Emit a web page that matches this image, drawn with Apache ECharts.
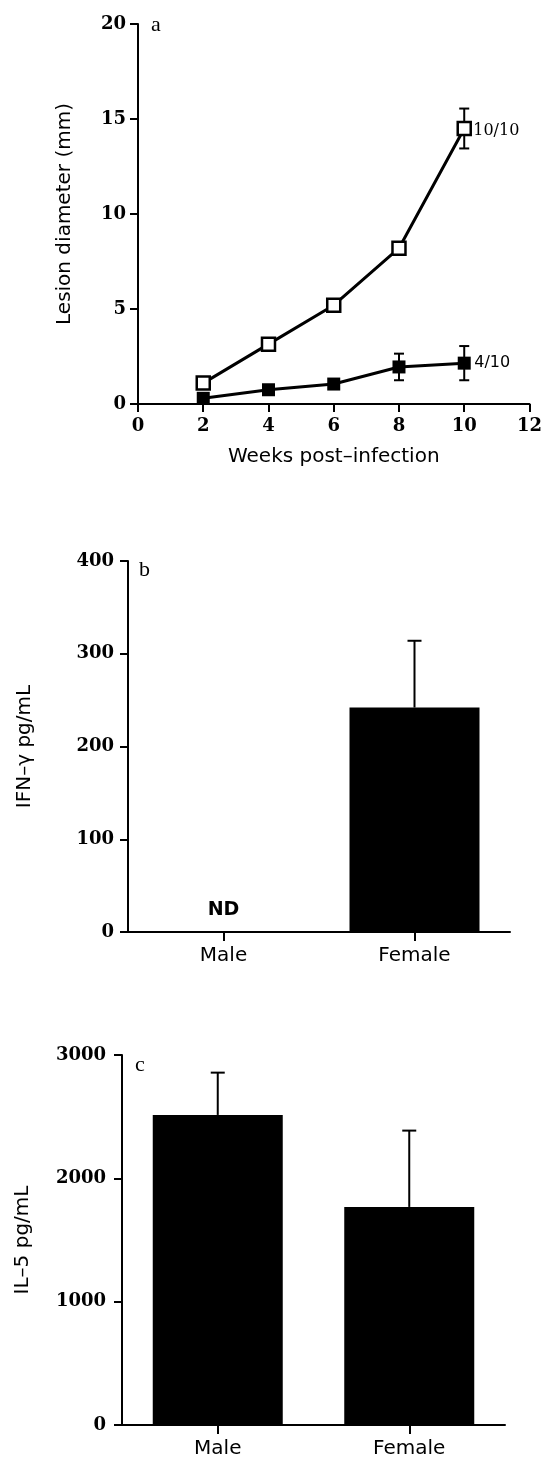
<!DOCTYPE html>
<html><head><meta charset="utf-8">
<script src="https://cdn.jsdelivr.net/npm/echarts@6/dist/echarts.min.js"></script>
<style>html,body{margin:0;padding:0;background:#fff}#c{width:545px;height:1460px}</style>
</head><body><div id="c"></div>
<script>
// Panel a data
const weeks = [2, 4, 6, 8, 10];
const openMeans = [1.1, 3.15, 5.2, 8.2, 14.5];
const openErr = [0, 0, 0, 0, 1.05];
const filledMeans = [0.3, 0.75, 1.05, 1.95, 2.15];
const filledErr = [0, 0, 0, 0.7, 0.9];
const openEndLabel = '10/10';
const filledEndLabel = '4/10';
// Panels b, c data
const sexCategories = ['Male', 'Female'];
const ifnValues = [0, 242];
const ifnErr = [0, 72];
const ifnNotDetected = ['ND', null];
const il5Values = [2514, 1768];
const il5Err = [343, 619];

const TICK_FONT = 'DejaVu Serif';
const NAME_FONT = 'DejaVu Sans';
const axisLineStyle = { color: '#000', width: 2 };

function valueAxisY(grid, max, interval, name, nameGap, margin) {
  return {
    type: 'value', gridIndex: grid, min: 0, max: max, interval: interval,
    name: name, nameLocation: 'middle', nameGap: nameGap,
    nameTextStyle: { fontFamily: NAME_FONT, fontSize: 20, color: '#000' },
    axisLine: { show: true, lineStyle: axisLineStyle },
    axisTick: { show: true, inside: false, length: 8, lineStyle: { color: '#000', width: 2 } },
    axisLabel: { margin: margin, fontFamily: TICK_FONT, fontWeight: 'bold', fontSize: 18, color: '#000',
      formatter: v => String(v) },
    splitLine: { show: false }
  };
}
function catAxisX(grid) {
  return {
    type: 'category', gridIndex: grid, data: sexCategories,
    axisLine: { show: true, lineStyle: axisLineStyle },
    axisTick: { show: true, alignWithLabel: true, length: 9, lineStyle: { color: '#000', width: 2 } },
    axisLabel: { margin: 14, fontFamily: NAME_FONT, fontSize: 20, color: '#000' },
    splitLine: { show: false }
  };
}

function lineErrRender(params, api) {
  const e = api.value(2);
  if (!e) return null;
  const x = api.value(0), y = api.value(1);
  const t = api.coord([x, y + e]);
  const b = api.coord([x, y - e]);
  const hw = 5;
  const st = { stroke: '#000', lineWidth: 2 };
  return { type: 'group', children: [
    { type: 'line', shape: { x1: t[0], y1: t[1], x2: b[0], y2: b[1] }, style: st },
    { type: 'line', shape: { x1: t[0] - hw, y1: t[1], x2: t[0] + hw, y2: t[1] }, style: st },
    { type: 'line', shape: { x1: b[0] - hw, y1: b[1], x2: b[0] + hw, y2: b[1] }, style: st }
  ]};
}
function barErrRender(params, api) {
  const e = api.value(2);
  if (!e) return null;
  const x = api.value(0), y = api.value(1);
  const base = api.coord([x, y]);
  const t = api.coord([x, y + e]);
  const hw = 7;
  const st = { stroke: '#000', lineWidth: 2 };
  return { type: 'group', children: [
    { type: 'line', shape: { x1: t[0], y1: t[1], x2: base[0], y2: base[1] }, style: st },
    { type: 'line', shape: { x1: t[0] - hw, y1: t[1], x2: t[0] + hw, y2: t[1] }, style: st }
  ]};
}

const option = {
  animation: false,
  backgroundColor: '#fff',
  grid: [
    { left: 138, top: 24, width: 392, height: 380 },
    { left: 128, top: 561, width: 382, height: 371 },
    { left: 122, top: 1055, width: 383, height: 370 }
  ],
  xAxis: [
    {
      type: 'value', gridIndex: 0, min: 0, max: 12, interval: 2,
      name: 'Weeks post–infection', nameLocation: 'middle', nameGap: 43,
      nameTextStyle: { fontFamily: NAME_FONT, fontSize: 20, color: '#000' },
      axisLine: { show: true, lineStyle: axisLineStyle },
      axisTick: { show: true, length: 8, lineStyle: { color: '#000', width: 2 } },
      axisLabel: { margin: 13, fontFamily: TICK_FONT, fontWeight: 'bold', fontSize: 18, color: '#000' },
      splitLine: { show: false }
    },
    catAxisX(1),
    catAxisX(2)
  ],
  yAxis: [
    valueAxisY(0, 20, 5, 'Lesion diameter (mm)', 63, 12),
    valueAxisY(1, 400, 100, 'IFN–γ pg/mL', 93, 14),
    valueAxisY(2, 3000, 1000, 'IL–5 pg/mL', 89, 16)
  ],
  graphic: [
    { type: 'text', left: 151, top: 14, style: { text: 'a', font: '22px "Liberation Serif"', fill: '#000' } },
    { type: 'text', left: 139, top: 559, style: { text: 'b', font: '22px "Liberation Serif"', fill: '#000' } },
    { type: 'text', left: 135, top: 1054, style: { text: 'c', font: '22px "Liberation Serif"', fill: '#000' } }
  ],
  series: [
    {
      type: 'custom', xAxisIndex: 0, yAxisIndex: 0, z: 1,
      renderItem: lineErrRender,
      data: weeks.map((w, i) => [w, openMeans[i], openErr[i]])
    },
    {
      type: 'custom', xAxisIndex: 0, yAxisIndex: 0, z: 1,
      renderItem: lineErrRender,
      data: weeks.map((w, i) => [w, filledMeans[i], filledErr[i]])
    },
    {
      type: 'line', xAxisIndex: 0, yAxisIndex: 0, z: 3,
      data: weeks.map((w, i) => [w, openMeans[i]]),
      symbol: 'rect', symbolSize: 13,
      itemStyle: { color: '#fff', borderColor: '#000', borderWidth: 2.5 },
      lineStyle: { color: '#000', width: 3 },
      endLabel: { show: true, formatter: openEndLabel, distance: 9, fontFamily: 'DejaVu Serif', fontSize: 16, color: '#000', offset: [0, 2] }
    },
    {
      type: 'line', xAxisIndex: 0, yAxisIndex: 0, z: 2,
      data: weeks.map((w, i) => [w, filledMeans[i]]),
      symbol: 'rect', symbolSize: 13,
      itemStyle: { color: '#000', borderColor: '#000', borderWidth: 0 },
      lineStyle: { color: '#000', width: 3 },
      endLabel: { show: true, formatter: filledEndLabel, distance: 10, fontFamily: 'DejaVu Sans', fontSize: 16, color: '#000' }
    },
    {
      type: 'bar', xAxisIndex: 1, yAxisIndex: 1, barWidth: 130,
      itemStyle: { color: '#000' },
      data: ifnValues.map((v, i) => ifnNotDetected[i] ? {
        value: v,
        label: { show: true, position: 'top', distance: 12, formatter: ifnNotDetected[i], fontFamily: NAME_FONT, fontWeight: 'bold', fontSize: 19, color: '#000' }
      } : v)
    },
    {
      type: 'custom', xAxisIndex: 1, yAxisIndex: 1, z: 3,
      renderItem: barErrRender,
      data: sexCategories.map((c, i) => [i, ifnValues[i], ifnErr[i]])
    },
    {
      type: 'bar', xAxisIndex: 2, yAxisIndex: 2, barWidth: 130,
      itemStyle: { color: '#000' },
      data: il5Values
    },
    {
      type: 'custom', xAxisIndex: 2, yAxisIndex: 2, z: 3,
      renderItem: barErrRender,
      data: sexCategories.map((c, i) => [i, il5Values[i], il5Err[i]])
    }
  ]
};
const chart = echarts.init(document.getElementById('c'), null, { renderer: 'canvas' });
chart.setOption(option);
</script>
</body></html>
